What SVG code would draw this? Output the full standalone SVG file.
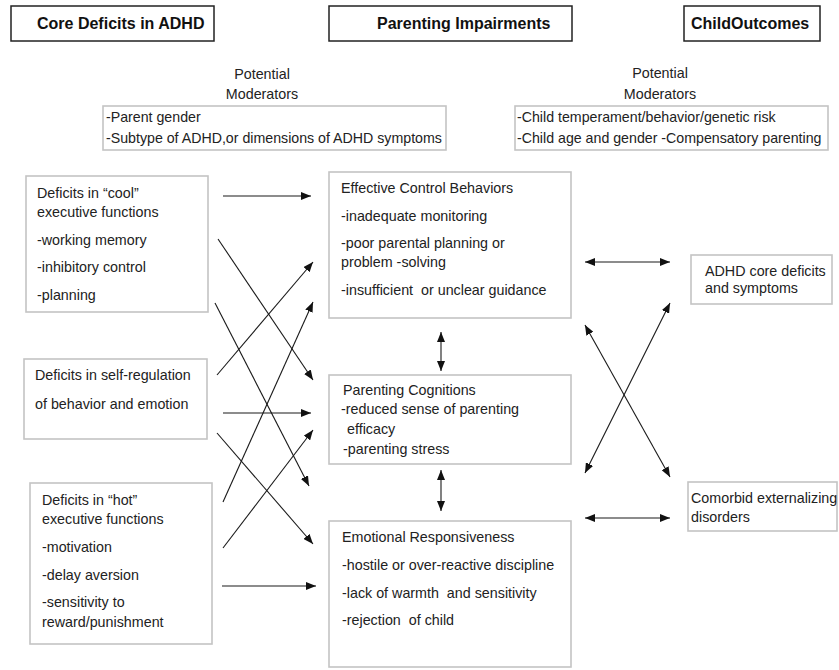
<svg xmlns="http://www.w3.org/2000/svg" width="839" height="670" viewBox="0 0 839 670">
<style>
.hdr{fill:#fff;stroke:#222;stroke-width:1.5}
.box{fill:#fff;stroke:#c4c4c4;stroke-width:1.6}
.ht{font-family:"Liberation Sans",Arial,sans-serif;font-size:16px;font-weight:bold;fill:#111}
.t{font-family:"Liberation Sans",Arial,sans-serif;font-size:14.3px;fill:#222;white-space:pre}
.m{font-family:"Liberation Sans",Arial,sans-serif;font-size:14.2px;fill:#222}
.c{fill:none;stroke:#1a1a1a;stroke-width:1.1}
</style>
<defs>
<marker id="ah" markerUnits="userSpaceOnUse" markerWidth="11" markerHeight="8" refX="10" refY="4" orient="auto-start-reverse">
<path d="M0,0 L10,4 L0,8 Z" fill="#111"/>
</marker>
</defs>
<rect width="839" height="670" fill="#fff"/>

<g id="hdr-core"><rect class="hdr" x="11" y="6" width="203" height="35"/><text class="ht" x="37" y="29">Core Deficits in ADHD</text></g>
<g id="hdr-parenting"><rect class="hdr" x="329" y="6" width="243" height="35"/><text class="ht" x="377" y="29">Parenting Impairments</text></g>
<g id="hdr-child"><rect class="hdr" x="684" y="6" width="136" height="35"/><text class="ht" x="691" y="29">ChildOutcomes</text></g>

<g id="mod-left">
<text class="t" x="262" y="79" text-anchor="middle">Potential</text>
<text class="t" x="262" y="99" text-anchor="middle">Moderators</text>
<rect class="box" x="103" y="106" width="343" height="44"/>
<text class="m" x="106" y="122">-Parent gender</text>
<text class="m" x="106" y="143">-Subtype of ADHD,or dimensions of ADHD symptoms</text>
</g>
<g id="mod-right">
<text class="t" x="660" y="78" text-anchor="middle">Potential</text>
<text class="t" x="660" y="99" text-anchor="middle">Moderators</text>
<rect class="box" x="515" y="106" width="313" height="44"/>
<text class="m" x="517" y="122">-Child temperament/behavior/genetic risk</text>
<text class="m" x="517" y="143">-Child age and gender -Compensatory parenting</text>
</g>

<g id="cool">
<rect class="box" x="26" y="176" width="182" height="136"/>
<text class="t" x="37" y="198">Deficits in “cool”</text>
<text class="t" x="37" y="217">executive functions</text>
<text class="t" x="37" y="245">-working memory</text>
<text class="t" x="37" y="272">-inhibitory control</text>
<text class="t" x="37" y="300">-planning</text>
</g>
<g id="selfreg">
<rect class="box" x="24" y="359" width="183" height="80"/>
<text class="t" x="35" y="380">Deficits in self-regulation</text>
<text class="t" x="35" y="409">of behavior and emotion</text>
</g>
<g id="hot">
<rect class="box" x="30" y="483" width="182" height="161"/>
<text class="t" x="42" y="505">Deficits in “hot”</text>
<text class="t" x="42" y="524">executive functions</text>
<text class="t" x="42" y="552">-motivation</text>
<text class="t" x="42" y="580">-delay aversion</text>
<text class="t" x="42" y="607">-sensitivity to</text>
<text class="t" x="42" y="627">reward/punishment</text>
</g>

<g id="effective">
<rect class="box" x="329" y="172" width="242" height="146"/>
<text class="t" x="341" y="193">Effective Control Behaviors</text>
<text class="t" x="341" y="221">-inadequate monitoring</text>
<text class="t" x="341" y="248">-poor parental planning or</text>
<text class="t" x="341" y="267">problem -solving</text>
<text class="t" x="341" y="295">-insufficient  or unclear guidance</text>
</g>
<g id="cognitions">
<rect class="box" x="329" y="375" width="242" height="89"/>
<text class="t" x="343" y="395">Parenting Cognitions</text>
<text class="t" x="341" y="414">-reduced sense of parenting</text>
<text class="t" x="347" y="434">efficacy</text>
<text class="t" x="343" y="454">-parenting stress</text>
</g>
<g id="emotional">
<rect class="box" x="329" y="521" width="242" height="146"/>
<text class="t" x="342" y="542">Emotional Responsiveness</text>
<text class="t" x="342" y="570">-hostile or over-reactive discipline</text>
<text class="t" x="342" y="598">-lack of warmth  and sensitivity</text>
<text class="t" x="342" y="625">-rejection  of child</text>
</g>

<g id="adhd-core">
<rect class="box" x="691" y="255" width="141" height="49"/>
<text class="t" x="705" y="276">ADHD core deficits</text>
<text class="t" x="705" y="293">and symptoms</text>
</g>
<g id="comorbid">
<rect class="box" x="688" y="482" width="149" height="49"/>
<text class="t" x="691" y="503">Comorbid externalizing</text>
<text class="t" x="691" y="522">disorders</text>
</g>

<g id="connectors">
<line class="c" x1="223" y1="196" x2="311" y2="196" marker-end="url(#ah)"/>
<line class="c" x1="223" y1="413" x2="311" y2="413" marker-end="url(#ah)"/>
<line class="c" x1="222" y1="586" x2="316" y2="586" marker-end="url(#ah)"/>
<line class="c" x1="218" y1="239" x2="313" y2="380" marker-end="url(#ah)"/>
<line class="c" x1="215" y1="303" x2="309" y2="486" marker-end="url(#ah)"/>
<line class="c" x1="217" y1="375" x2="313" y2="262" marker-end="url(#ah)"/>
<line class="c" x1="217" y1="433" x2="313" y2="544" marker-end="url(#ah)"/>
<line class="c" x1="223" y1="502" x2="313" y2="302" marker-end="url(#ah)"/>
<line class="c" x1="223" y1="548" x2="313" y2="430" marker-end="url(#ah)"/>
<line class="c" x1="441" y1="332" x2="441" y2="371" marker-start="url(#ah)" marker-end="url(#ah)"/>
<line class="c" x1="441" y1="470" x2="441" y2="511" marker-start="url(#ah)" marker-end="url(#ah)"/>
<line class="c" x1="585" y1="262" x2="670" y2="262" marker-start="url(#ah)" marker-end="url(#ah)"/>
<line class="c" x1="585" y1="518" x2="670" y2="518" marker-start="url(#ah)" marker-end="url(#ah)"/>
<line class="c" x1="585" y1="325" x2="670" y2="477" marker-start="url(#ah)" marker-end="url(#ah)"/>
<line class="c" x1="670" y1="303" x2="585" y2="473" marker-start="url(#ah)" marker-end="url(#ah)"/>
</g>
</svg>
